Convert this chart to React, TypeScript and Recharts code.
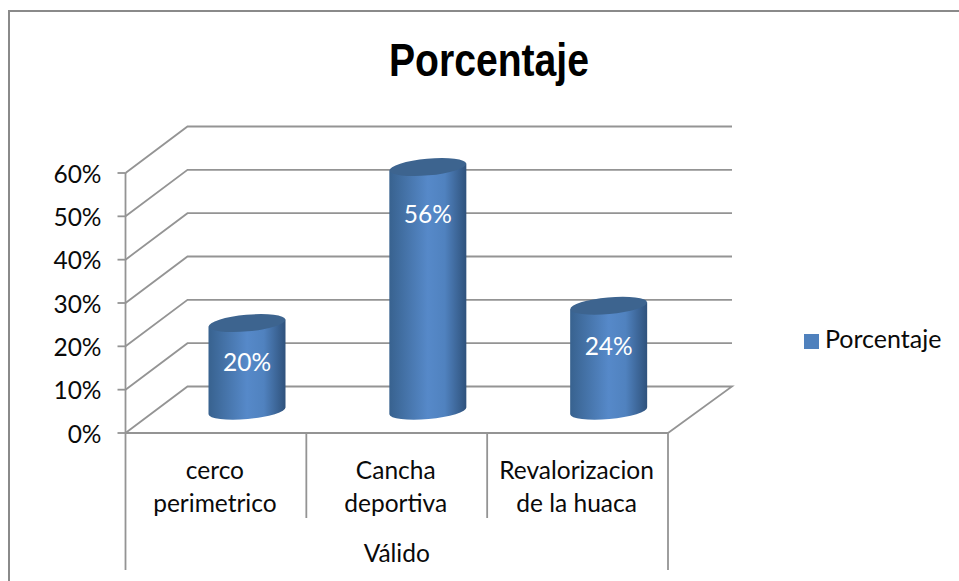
import { Bar, BarChart, CartesianGrid, LabelList, Legend, XAxis, YAxis } from 'recharts'

const categories = [
  ['cerco', 'perimetrico'],
  ['Cancha', 'deportiva'],
  ['Revalorizacion', 'de la huaca'],
]
const values = [20, 56, 24]
const yTicks = [0, 10, 20, 30, 40, 50, 60]
const seriesName = 'Porcentaje'
const groupName = 'Válido'

const rows = categories.map((c, i) => ({ name: c.join(' '), lines: c, value: values[i] }))

const FONT = 'Lato, Carlito, sans-serif'
const FONT_SIZE = 24.5
const AXIS = '#949494'
const AXIS_W = 1.8
// the 3d look: how far the back wall sits from the front plane
const DX = 62
const DY = 46.5
const PLOT_LEFT = 125.5
const PLOT_RIGHT = 668
const PLOT_BOTTOM = 433

function GridLine({ x1, y1, x2 }: any) {
  const isFloor = Math.abs(y1 - PLOT_BOTTOM) < 1
  const pts = [`${x1},${y1}`, `${x1 + DX},${y1 - DY}`, `${x2 + DX + 2},${y1 - DY}`]
  if (isFloor) pts.push(`${x2},${y1}`)
  return <polyline points={pts.join(' ')} fill="none" stroke={AXIS} strokeWidth={AXIS_W} />
}

function Cylinder({ x, y, width, height }: any) {
  const cx = x + width / 2 + DX / 2
  const top = y - DY / 2
  const bottom = y + height - DY / 2 + 1
  const rx = width / 2
  const lean = 3.5
  const rot = -5.2
  const ry = 8.3
  const body = `M${cx - rx},${top + lean} L${cx - rx},${bottom + lean} A${rx},${ry} ${rot} 0 0 ${cx + rx},${bottom - lean} L${cx + rx},${top - lean} Z`
  return (
    <g>
      <path d={body} fill="url(#cyl)" />
      <ellipse cx={cx} cy={top} rx={rx} ry={ry} fill="#3d648f" transform={`rotate(${rot} ${cx} ${top})`} />
    </g>
  )
}

function BarLabel({ x, y, width, height, value }: any) {
  return (
    <text
      x={x + width / 2 + DX / 2}
      y={y - DY / 2 + 35 + height * 0.045}
      fill="#fff"
      fontFamily={FONT}
      fontSize={FONT_SIZE}
      textAnchor="middle"
      dominantBaseline="central"
    >
      {`${value}%`}
    </text>
  )
}

function CategoryTick({ x, index }: any) {
  const band = (PLOT_RIGHT - PLOT_LEFT) / categories.length
  const lines = categories[index]
  const isFirst = index === 0
  const isLast = index === categories.length - 1
  return (
    <g>
      {isFirst && <line x1={x - band / 2} y1={PLOT_BOTTOM} x2={x - band / 2} y2={570} stroke={AXIS} strokeWidth={AXIS_W} />}
      <line x1={x + band / 2} y1={PLOT_BOTTOM} x2={x + band / 2} y2={isLast ? 570 : 518} stroke={AXIS} strokeWidth={AXIS_W} />
      {lines.map((t, i) => (
        <text key={t} x={x - 1} y={469 + i * 33} fill="#0a0a0a" fontFamily={FONT} fontSize={FONT_SIZE} textAnchor="middle" dominantBaseline="central">
          {t}
        </text>
      ))}
    </g>
  )
}

export default function App() {
  return (
    <div style={{ position: 'fixed', left: 0, top: 0, width: 959, height: 581, background: '#fff' }}>
      <BarChart
        width={959}
        height={581}
        data={rows}
        margin={{ top: 173, right: 136, bottom: 0, left: 0 }}
        barSize={77}
      >
        <defs>
          <linearGradient id="cyl" x1="0" y1="0" x2="1" y2="0">
            <stop offset="0" stopColor="#38628f" />
            <stop offset="0.5" stopColor="#5689c9" />
            <stop offset="0.72" stopColor="#5082bf" />
            <stop offset="1" stopColor="#2f527c" />
          </linearGradient>
        </defs>
        <polyline points="9,581 9,11 959,11" fill="none" stroke="#8a8a8a" strokeWidth={2} />
        <text
          x={489}
          y={76}
          fontFamily="'Liberation Sans', Arial, sans-serif"
          fontWeight="bold"
          fontSize={46}
          textAnchor="middle"
          textLength={200}
          lengthAdjust="spacingAndGlyphs"
          fill="#000"
        >
          {seriesName}
        </text>
        <CartesianGrid vertical={false} horizontal={(p: any) => <GridLine key={p.key ?? p.y1} {...p} />} />
        <XAxis
          dataKey="name"
          interval={0}
          height={148}
          tickLine={false}
          tick={(p: any) => <CategoryTick {...p} />}
          axisLine={{ stroke: AXIS, strokeWidth: AXIS_W }}
          label={{ value: groupName, position: 'insideBottom', offset: 19, fill: '#0a0a0a', fontFamily: FONT, fontSize: FONT_SIZE }}
        />
        <YAxis
          domain={[0, 60]}
          ticks={yTicks}
          width={125.5}
          tickSize={8}
          tickMargin={16}
          dy={1}
          tickFormatter={(v: number) => `${v}%`}
          tick={{ fill: '#0a0a0a', fontFamily: FONT, fontSize: FONT_SIZE }}
          tickLine={{ stroke: AXIS, strokeWidth: AXIS_W }}
          axisLine={{ stroke: AXIS, strokeWidth: AXIS_W }}
        />
        <Legend
          layout="vertical"
          align="right"
          verticalAlign="top"
          iconType="square"
          iconSize={15}
          wrapperStyle={{ left: 804, top: 323, right: 'auto', width: 155, fontFamily: FONT, fontSize: 25 }}
          formatter={(v: string) => <span style={{ color: '#0a0a0a', marginLeft: 2 }}>{v}</span>}
        />
        <Bar dataKey="value" name={seriesName} fill="#4f81bd" shape={<Cylinder />} isAnimationActive={false}>
          <LabelList dataKey="value" content={<BarLabel />} />
        </Bar>
      </BarChart>
    </div>
  )
}
